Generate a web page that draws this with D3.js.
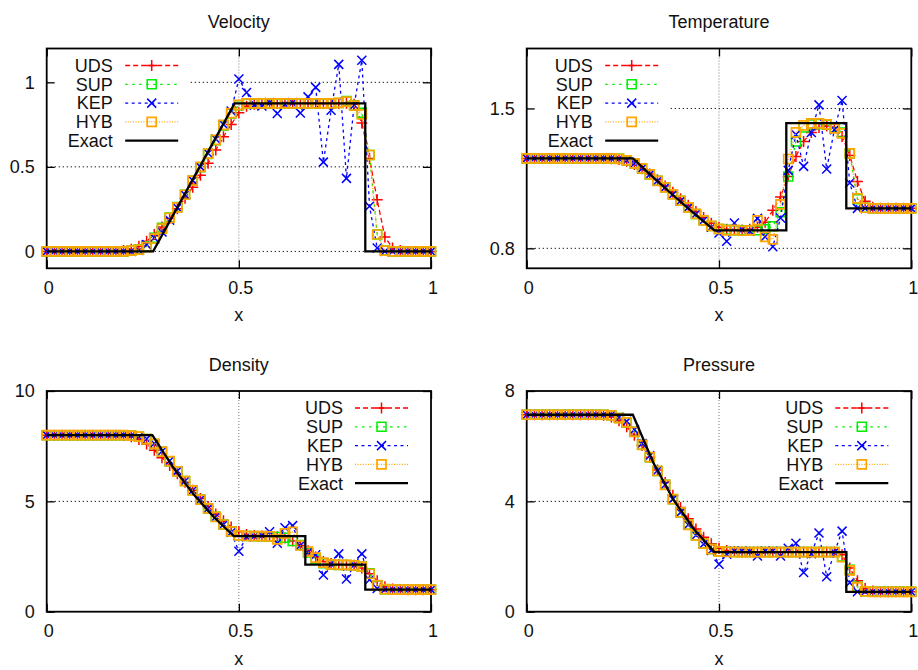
<!DOCTYPE html>
<html>
<head>
<meta charset="utf-8">
<script src="https://cdn.jsdelivr.net/npm/d3@7"></script>
<style>
  body { margin: 0; background: #fff; }
</style>
</head>
<body>
<svg id="chart" width="918" height="670"></svg>
<script>
// Grid positions of the 51 solution nodes
const xGrid = [0, 0.02, 0.04, 0.06, 0.08, 0.1, 0.12, 0.14, 0.16, 0.18,
  0.2, 0.22, 0.24, 0.26, 0.28, 0.3, 0.32, 0.34, 0.36, 0.38,
  0.4, 0.42, 0.44, 0.46, 0.48, 0.5, 0.52, 0.54, 0.56, 0.58,
  0.6, 0.62, 0.64, 0.66, 0.68, 0.7, 0.72, 0.74, 0.76, 0.78,
  0.8, 0.82, 0.84, 0.86, 0.88, 0.9, 0.92, 0.94, 0.96, 0.98, 1];

const schemes = ["UDS", "SUP", "KEP", "HYB"];

// ---- Velocity ----
const velocityUDS = [0, 0, 0, 0, 0, 0, 0, 0, 0, 0,
  0.005, 0.012, 0.03, 0.06, 0.1, 0.145, 0.195, 0.252, 0.315, 0.38,
  0.45, 0.522, 0.6, 0.678, 0.75, 0.82, 0.858, 0.87, 0.875, 0.875,
  0.875, 0.875, 0.875, 0.875, 0.875, 0.875, 0.875, 0.875, 0.875, 0.876,
  0.87, 0.76, 0.55, 0.305, 0.085, 0.02, 0.005, 0, 0, 0, 0];
const velocitySUP = [0, 0, 0, 0, 0, 0, 0, 0, 0, 0,
  0, 0.005, 0.012, 0.03, 0.08, 0.14, 0.2, 0.262, 0.335, 0.418,
  0.498, 0.576, 0.658, 0.745, 0.815, 0.865, 0.874, 0.875, 0.875, 0.875,
  0.875, 0.875, 0.875, 0.875, 0.875, 0.875, 0.875, 0.876, 0.878, 0.89,
  0.865, 0.82, 0.57, 0.1, 0.005, 0, 0, 0, 0, 0, 0];
const velocityKEP = [0, 0, 0, 0, 0, 0, 0, 0, 0, 0,
  0, 0, 0.005, 0.04, 0.08, 0.115, 0.185, 0.258, 0.335, 0.42,
  0.5, 0.58, 0.665, 0.75, 0.83, 1.02, 0.94, 0.865, 0.86, 0.88,
  0.816, 0.87, 0.88, 0.818, 0.914, 0.97, 0.528, 0.835, 1.106, 0.432,
  0.865, 1.13, 0.267, 0.02, 0, 0, 0, 0, 0, 0, 0];
const velocityHYB = [0, 0, 0, 0, 0, 0, 0, 0, 0, 0,
  0, 0.004, 0.01, 0.025, 0.075, 0.135, 0.198, 0.26, 0.335, 0.418,
  0.5, 0.578, 0.66, 0.748, 0.818, 0.866, 0.875, 0.875, 0.875, 0.875,
  0.875, 0.875, 0.875, 0.875, 0.875, 0.875, 0.875, 0.876, 0.878, 0.886,
  0.862, 0.81, 0.57, 0.1, 0.005, 0, 0, 0, 0, 0, 0];
const velocityExactX = [0, 0.277, 0.489, 0.829, 0.829, 1];
const velocityExactY = [0, 0, 0.875, 0.875, 0, 0];
const velocityTicks = [0, 0.5, 1];
const velocityTickLabels = ["0", "0.5", "1"];

// ---- Temperature ----
const temperatureUDS = [1.25, 1.25, 1.25, 1.25, 1.25, 1.25, 1.25, 1.25, 1.25, 1.25,
  1.25, 1.248, 1.244, 1.236, 1.22, 1.198, 1.172, 1.143, 1.112, 1.08,
  1.048, 1.016, 0.984, 0.954, 0.926, 0.905, 0.895, 0.892, 0.892, 0.895,
  0.905, 0.93, 0.99, 1.057, 1.16, 1.26, 1.335, 1.38, 1.405, 1.412,
  1.405, 1.36, 1.265, 1.135, 1.035, 1.005, 1, 1, 1, 1, 1];
const temperatureSUP = [1.25, 1.25, 1.25, 1.25, 1.25, 1.25, 1.25, 1.25, 1.25, 1.25,
  1.25, 1.25, 1.248, 1.24, 1.225, 1.2, 1.17, 1.138, 1.105, 1.07,
  1.038, 1.005, 0.972, 0.94, 0.912, 0.897, 0.893, 0.891, 0.89, 0.89,
  0.89, 0.895, 0.91, 0.98, 1.16, 1.335, 1.405, 1.42, 1.422, 1.418,
  1.405, 1.38, 1.275, 1.045, 1.003, 1, 1, 1, 1, 1, 1];
const temperatureKEP = [1.25, 1.25, 1.25, 1.25, 1.25, 1.25, 1.25, 1.25, 1.25, 1.25,
  1.25, 1.25, 1.248, 1.24, 1.225, 1.2, 1.17, 1.138, 1.105, 1.07,
  1.038, 1.005, 0.972, 0.94, 0.905, 0.877, 0.835, 0.927, 0.893, 0.885,
  0.95, 0.858, 0.808, 0.952, 1.19, 1.37, 1.21, 1.38, 1.518, 1.197,
  1.393, 1.54, 1.127, 1.0, 1, 1, 1, 1, 1, 1, 1];
const temperatureHYB = [1.25, 1.25, 1.25, 1.25, 1.25, 1.25, 1.25, 1.25, 1.25, 1.25,
  1.25, 1.25, 1.248, 1.24, 1.225, 1.2, 1.17, 1.138, 1.105, 1.07,
  1.038, 1.005, 0.972, 0.94, 0.912, 0.897, 0.89, 0.892, 0.888, 0.89,
  0.94, 0.857, 0.845, 1.02, 1.247, 1.38, 1.415, 1.425, 1.425, 1.42,
  1.4, 1.375, 1.275, 1.05, 1.003, 1, 1, 1, 1, 1, 1];
const temperatureExactX = [0, 0.276, 0.329, 0.382, 0.435, 0.488, 0.675, 0.675, 0.831, 0.831, 1];
const temperatureExactY = [1.25, 1.25, 1.155, 1.063, 0.975, 0.89, 0.89, 1.427, 1.427, 1.0, 1.0];
const temperatureTicks = [0.8, 1.5];
const temperatureTickLabels = ["0.8", "1.5"];

// ---- Density ----
const densityUDS = [8, 8, 8, 8, 8, 8, 8, 8, 8, 8,
  7.98, 7.93, 7.8, 7.6, 7.32, 6.98, 6.62, 6.25, 5.87, 5.5,
  5.13, 4.77, 4.43, 4.12, 3.84, 3.62, 3.5, 3.45, 3.43, 3.42,
  3.4, 3.34, 3.2, 3.0, 2.76, 2.48, 2.28, 2.18, 2.14, 2.12,
  2.1, 1.98, 1.72, 1.4, 1.13, 1.03, 1.005, 1, 1, 1, 1];
const densitySUP = [8, 8, 8, 8, 8, 8, 8, 8, 8, 8,
  8, 7.98, 7.93, 7.82, 7.6, 7.25, 6.82, 6.36, 5.92, 5.5,
  5.08, 4.68, 4.3, 3.95, 3.64, 3.46, 3.43, 3.42, 3.42, 3.41,
  3.38, 3.35, 3.2, 3.02, 2.68, 2.36, 2.2, 2.14, 2.12, 2.12,
  2.1, 2.05, 1.74, 1.2, 1.02, 1, 1, 1, 1, 1, 1];
const densityKEP = [8, 8, 8, 8, 8, 8, 8, 8, 8, 8,
  8, 7.98, 7.94, 7.83, 7.62, 7.27, 6.84, 6.38, 5.92, 5.5,
  5.08, 4.68, 4.3, 3.95, 3.6, 2.74, 3.4, 3.42, 3.45, 3.62,
  3.1, 3.8, 3.9, 3.0, 2.7, 2.58, 1.66, 2.15, 2.62, 1.48,
  2.12, 2.62, 1.45, 1.05, 1, 1, 1, 1, 1, 1, 1];
const densityHYB = [8, 8, 8, 8, 8, 8, 8, 8, 8, 8,
  8, 7.98, 7.93, 7.82, 7.6, 7.25, 6.82, 6.36, 5.92, 5.5,
  5.08, 4.68, 4.3, 3.95, 3.64, 3.46, 3.43, 3.42, 3.42, 3.41,
  3.28, 3.55, 3.62, 3.0, 2.72, 2.45, 2.22, 2.14, 2.12, 2.12,
  2.1, 2.04, 1.72, 1.2, 1.02, 1, 1, 1, 1, 1, 1];
const densityExactX = [0, 0.275, 0.328, 0.381, 0.434, 0.487, 0.673, 0.673, 0.829, 0.829, 1];
const densityExactY = [8, 8, 6.56, 5.34, 4.3, 3.42, 3.42, 2.13, 2.13, 1.0, 1.0];
const densityTicks = [0, 5, 10];
const densityTickLabels = ["0", "5", "10"];

// ---- Pressure ----
const pressureUDS = [7.14, 7.14, 7.14, 7.14, 7.14, 7.14, 7.14, 7.14, 7.14, 7.14,
  7.12, 7.06, 6.92, 6.7, 6.4, 6.02, 5.6, 5.14, 4.68, 4.22,
  3.78, 3.37, 3.0, 2.7, 2.46, 2.3, 2.22, 2.18, 2.16, 2.16,
  2.16, 2.16, 2.16, 2.16, 2.16, 2.16, 2.16, 2.16, 2.16, 2.16,
  2.16, 2.06, 1.58, 1.12, 0.84, 0.75, 0.725, 0.72, 0.72, 0.72, 0.72];
const pressureSUP = [7.14, 7.14, 7.14, 7.14, 7.14, 7.14, 7.14, 7.14, 7.14, 7.14,
  7.14, 7.12, 7.02, 6.86, 6.52, 6.05, 5.6, 5.1, 4.6, 4.08,
  3.6, 3.15, 2.77, 2.47, 2.27, 2.19, 2.17, 2.16, 2.16, 2.16,
  2.16, 2.16, 2.16, 2.16, 2.16, 2.16, 2.16, 2.16, 2.16, 2.16,
  2.16, 2.0, 1.52, 0.9, 0.74, 0.72, 0.72, 0.72, 0.72, 0.72, 0.72];
const pressureKEP = [7.14, 7.14, 7.14, 7.14, 7.14, 7.14, 7.14, 7.14, 7.14, 7.14,
  7.14, 7.14, 7.05, 6.9, 6.6, 6.1, 5.65, 5.12, 4.6, 4.08,
  3.6, 3.15, 2.77, 2.45, 2.22, 1.72, 2.08, 2.2, 2.2, 2.18,
  2.02, 2.2, 2.2, 2.02, 2.3, 2.48, 1.42, 2.1, 2.85, 1.27,
  2.15, 2.92, 1.05, 0.72, 0.72, 0.72, 0.72, 0.72, 0.72, 0.72, 0.72];
const pressureHYB = [7.14, 7.14, 7.14, 7.14, 7.14, 7.14, 7.14, 7.14, 7.14, 7.14,
  7.14, 7.12, 7.02, 6.86, 6.52, 6.05, 5.6, 5.1, 4.6, 4.08,
  3.6, 3.15, 2.77, 2.47, 2.27, 2.19, 2.17, 2.16, 2.16, 2.16,
  2.16, 2.16, 2.16, 2.16, 2.16, 2.16, 2.16, 2.16, 2.16, 2.16,
  2.16, 1.98, 1.5, 0.88, 0.74, 0.72, 0.72, 0.72, 0.72, 0.72, 0.72];
const pressureExactX = [0, 0.276, 0.329, 0.382, 0.435, 0.488, 0.831, 0.831, 1];
const pressureExactY = [7.14, 7.14, 5.41, 4.05, 2.99, 2.16, 2.16, 0.72, 0.72];
const pressureTicks = [0, 4, 8];
const pressureTickLabels = ["0", "4", "8"];

const xTicks = [0, 0.5, 1];
const xTickLabels = ["0", "0.5", "1"];

// ---- Presentation ----
const FONT = '"Liberation Sans", Arial, Helvetica, sans-serif';
const schemeStyle = {
  UDS: { color: "#ff0000", dash: "5,3", marker: "plus", width: 1.3, mw: 1.5 },
  SUP: { color: "#00ee00", dash: "2.5,4.5", marker: "square", width: 1.3, mw: 1.5 },
  KEP: { color: "#0000ff", dash: "3,3.5", marker: "cross", width: 1.3, mw: 1.5 },
  HYB: { color: "#ffa500", dash: "1,1.6", marker: "square", width: 1.3, mw: 1.7 }
};
const markerD = {
  plus: "M-5.5,0H5.5M0,-5.5V5.5",
  cross: "M-4.5,-4.5L4.5,4.5M-4.5,4.5L4.5,-4.5",
  square: "M-4.5,-4.5H4.5V4.5H-4.5Z"
};

const panels = [
  { title: "Velocity", left: 46.7, right: 431, top: 48.5, bottom: 268.3, yDomain: [-0.1, 1.2],
    yTicks: velocityTicks, yLabels: velocityTickLabels,
    data: [velocityUDS, velocitySUP, velocityKEP, velocityHYB],
    exactX: velocityExactX, exactY: velocityExactY, legend: "left" },
  { title: "Temperature", left: 526.7, right: 911.3, top: 48.5, bottom: 268.3, yDomain: [0.7, 1.8],
    yTicks: temperatureTicks, yLabels: temperatureTickLabels,
    data: [temperatureUDS, temperatureSUP, temperatureKEP, temperatureHYB],
    exactX: temperatureExactX, exactY: temperatureExactY, legend: "left" },
  { title: "Density", left: 46.7, right: 431, top: 391, bottom: 611.7, yDomain: [0, 10],
    yTicks: densityTicks, yLabels: densityTickLabels,
    data: [densityUDS, densitySUP, densityKEP, densityHYB],
    exactX: densityExactX, exactY: densityExactY, legend: "right" },
  { title: "Pressure", left: 526.7, right: 911.3, top: 391, bottom: 611.7, yDomain: [0, 8],
    yTicks: pressureTicks, yLabels: pressureTickLabels,
    data: [pressureUDS, pressureSUP, pressureKEP, pressureHYB],
    exactX: pressureExactX, exactY: pressureExactY, legend: "right" }
];

const svg = d3.select("#chart");

function styleAxis(sel) {
  sel.select(".domain").remove();
  sel.selectAll(".tick line").attr("stroke", "#000").attr("stroke-width", 1.3);
  sel.selectAll(".tick text")
    .attr("font-family", FONT).attr("font-size", 18).attr("fill", "#111");
}

function drawPanel(p) {
  const g = svg.append("g");
  const x = d3.scaleLinear().domain([0, 1]).range([p.left, p.right]);
  const y = d3.scaleLinear().domain(p.yDomain).range([p.bottom, p.top]);

  // dotted grid at interior ticks
  const yGrid = p.yTicks.filter(t => t > p.yDomain[0] && t < p.yDomain[1]);
  g.append("g").selectAll("line").data(yGrid).join("line")
    .attr("x1", p.left).attr("x2", p.right)
    .attr("y1", d => y(d)).attr("y2", d => y(d))
    .attr("stroke", "#000").attr("stroke-width", 1).attr("stroke-dasharray", "1.2,2.8");
  g.append("g").selectAll("line").data(xTicks.filter(t => t > 0 && t < 1)).join("line")
    .attr("x1", d => x(d)).attr("x2", d => x(d))
    .attr("y1", p.top).attr("y2", p.bottom)
    .attr("stroke", "#777").attr("stroke-width", 1).attr("stroke-dasharray", "1,2");

  // opaque key background
  const keyBox = p.legend === "left"
    ? { x: p.left + 1, w: 142 }
    : { x: p.right - 147, w: 146 };
  g.append("rect").attr("x", keyBox.x).attr("y", p.top + 5)
    .attr("width", keyBox.w).attr("height", 99).attr("fill", "#fff");

  // axes with inward ticks on all four sides
  g.append("g").attr("transform", `translate(${p.left},0)`)
    .call(d3.axisLeft(y).tickValues(p.yTicks).tickFormat((d, i) => p.yLabels[i])
      .tickSize(-8).tickPadding(12))
    .call(styleAxis);
  g.append("g").attr("transform", `translate(${p.right},0)`)
    .call(d3.axisRight(y).tickValues(p.yTicks).tickFormat("").tickSize(-8))
    .call(styleAxis);
  g.append("g").attr("transform", `translate(0,${p.bottom})`)
    .call(d3.axisBottom(x).tickValues(xTicks).tickFormat((d, i) => xTickLabels[i])
      .tickSize(-8).tickPadding(13))
    .call(styleAxis)
    .call(s => s.selectAll(".tick text").attr("dx", 1.5));
  g.append("g").attr("transform", `translate(0,${p.top})`)
    .call(d3.axisTop(x).tickValues(xTicks).tickFormat("").tickSize(-8))
    .call(styleAxis);

  g.append("rect").attr("x", p.left).attr("y", p.top)
    .attr("width", p.right - p.left).attr("height", p.bottom - p.top)
    .attr("fill", "none").attr("stroke", "#000").attr("stroke-width", 1.8);

  // numerical solutions
  const line = d3.line().x((d, i) => x(xGrid[i])).y(d => y(d));
  schemes.forEach((name, k) => {
    const st = schemeStyle[name];
    const values = p.data[k];
    g.append("path").datum(values).attr("d", line)
      .attr("fill", "none").attr("stroke", st.color).attr("stroke-width", st.width)
      .attr("stroke-dasharray", st.dash);
    g.append("g").selectAll("path").data(values).join("path")
      .attr("transform", (d, i) => `translate(${x(xGrid[i])},${y(d)})`)
      .attr("d", markerD[st.marker])
      .attr("fill", "none").attr("stroke", st.color).attr("stroke-width", st.mw);
  });

  // exact solution
  const exactLine = d3.line().x((d, i) => x(p.exactX[i])).y(d => y(d));
  g.append("path").datum(p.exactY).attr("d", exactLine)
    .attr("fill", "none").attr("stroke", "#000").attr("stroke-width", 2.3);

  // key
  const textRight = p.legend === "left" ? p.left + 66 : p.right - 88;
  const lx1 = p.legend === "left" ? p.left + 78.5 : p.right - 76;
  const lx2 = lx1 + 53;
  const entries = schemes.concat(["Exact"]);
  entries.forEach((name, k) => {
    const ry = p.top + 17 + k * 18.8;
    g.append("text").attr("x", textRight).attr("y", ry).attr("dy", "0.35em")
      .attr("text-anchor", "end").attr("font-family", FONT).attr("font-size", 18)
      .attr("fill", "#111").text(name);
    if (name === "Exact") {
      g.append("line").attr("x1", lx1).attr("x2", lx2).attr("y1", ry).attr("y2", ry)
        .attr("stroke", "#000").attr("stroke-width", 2.3);
    } else {
      const st = schemeStyle[name];
      g.append("line").attr("x1", lx1).attr("x2", lx2).attr("y1", ry).attr("y2", ry)
        .attr("stroke", st.color).attr("stroke-width", st.width)
        .attr("stroke-dasharray", st.dash);
      g.append("path").attr("transform", `translate(${(lx1 + lx2) / 2},${ry})`)
        .attr("d", markerD[st.marker]).attr("fill", "none")
        .attr("stroke", st.color).attr("stroke-width", st.mw);
    }
  });

  // titles
  g.append("text").attr("x", (p.left + p.right) / 2).attr("y", p.top - 20.5)
    .attr("text-anchor", "middle").attr("font-family", FONT).attr("font-size", 18)
    .attr("fill", "#111").text(p.title);
  g.append("text").attr("x", (p.left + p.right) / 2).attr("y", p.bottom + 53)
    .attr("text-anchor", "middle").attr("font-family", FONT).attr("font-size", 18)
    .attr("fill", "#111").text("x");
}

panels.forEach(drawPanel);
</script>
</body>
</html>
